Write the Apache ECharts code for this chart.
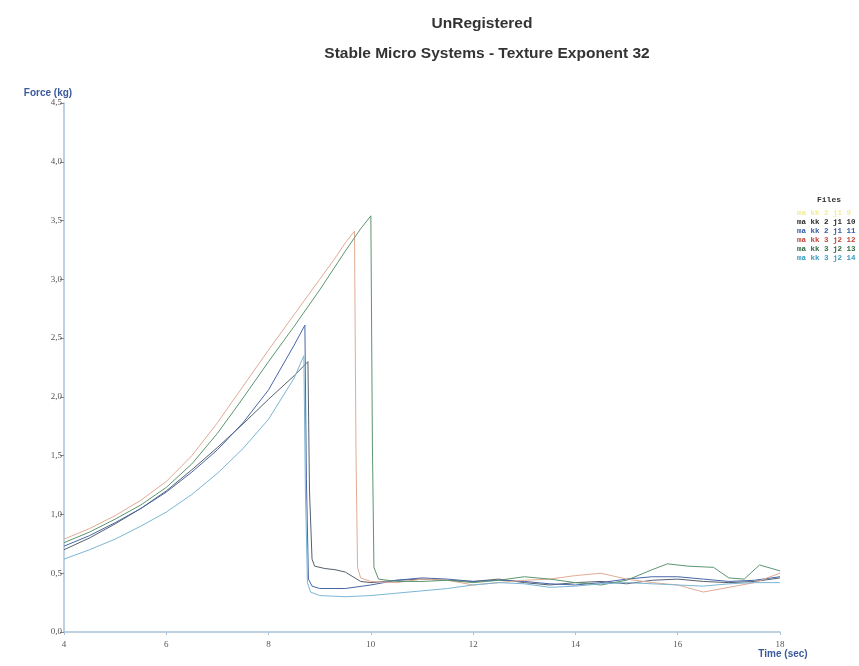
<!DOCTYPE html>
<html lang="en">
<head>
<meta charset="UTF-8"/>
<title>Texture Exponent 32</title>
<script src="https://cdn.jsdelivr.net/npm/echarts@6/dist/echarts.min.js"></script>
<style>
  html, body { margin: 0; padding: 0; background: #fff; }
</style>
</head>
<body>
<div id="main" style="width: 859px;height: 666px;"></div>
<script type="text/javascript">
// legend names (Files)
var fileNames = ['ma kk 2 j1 9', 'ma kk 2 j1 10', 'ma kk 2 j1 11', 'ma kk 3 j2 12', 'ma kk 3 j2 13', 'ma kk 3 j2 14'];
var legendColors = ['#f0ec9a', '#2a2a2a', '#3a5ca6', '#c0463a', '#2f6a42', '#3a9cc2'];
var lineColors = ['#efe9a0', '#56606e', '#4867a8', '#e2ab94', '#5c9670', '#7bb6d4'];

var xTicks = [4, 6, 8, 10, 12, 14, 16, 18];
var yTicks = [0, 0.5, 1, 1.5, 2, 2.5, 3, 3.5, 4, 4.5];

// time (sec) / force (kg) for each file
var t9 = [];
var f9 = [];

var t10 = [4, 4.5, 5, 5.5, 6, 6.5, 7, 7.5, 8, 8.5, 8.77, 8.8, 8.85, 8.9, 9.1, 9.3, 9.5, 9.65, 9.8, 10, 10.5, 11, 11.5, 12, 12.5, 13, 13.5, 14, 14.5, 15, 15.5, 16, 16.5, 17, 17.5, 18];
var f10 = [0.70, 0.80, 0.92, 1.05, 1.20, 1.38, 1.57, 1.77, 1.98, 2.18, 2.30, 1.2, 0.62, 0.56, 0.54, 0.53, 0.51, 0.47, 0.43, 0.42, 0.44, 0.45, 0.44, 0.43, 0.45, 0.42, 0.40, 0.42, 0.43, 0.41, 0.44, 0.45, 0.43, 0.42, 0.43, 0.46];

var t11 = [4, 4.5, 5, 5.5, 6, 6.5, 7, 7.5, 8, 8.5, 8.71, 8.74, 8.78, 8.85, 9, 9.5, 10, 10.5, 11, 11.5, 12, 12.5, 13, 13.5, 14, 14.5, 15, 15.5, 16, 16.5, 17, 17.5, 18];
var f11 = [0.73, 0.82, 0.93, 1.05, 1.19, 1.36, 1.55, 1.78, 2.06, 2.44, 2.61, 1.3, 0.45, 0.39, 0.37, 0.37, 0.40, 0.44, 0.46, 0.45, 0.43, 0.44, 0.43, 0.41, 0.40, 0.42, 0.45, 0.47, 0.47, 0.45, 0.43, 0.44, 0.47];

var t12 = [4, 4.5, 5, 5.5, 6, 6.5, 7, 7.5, 8, 8.5, 9, 9.3, 9.5, 9.68, 9.71, 9.74, 9.8, 10, 10.5, 11, 11.5, 12, 12.5, 13, 13.5, 14, 14.5, 15, 15.5, 16, 16.5, 17, 17.5, 18];
var f12 = [0.79, 0.88, 0.99, 1.12, 1.28, 1.50, 1.78, 2.09, 2.40, 2.70, 3.00, 3.18, 3.31, 3.41, 1.5, 0.55, 0.46, 0.43, 0.42, 0.45, 0.44, 0.40, 0.42, 0.44, 0.45, 0.48, 0.50, 0.45, 0.42, 0.40, 0.34, 0.38, 0.42, 0.50];

var t13 = [4, 4.5, 5, 5.5, 6, 6.5, 7, 7.5, 8, 8.5, 9, 9.5, 9.8, 10.0, 10.03, 10.06, 10.15, 10.5, 11, 11.5, 12, 12.5, 13, 13.5, 14, 14.5, 15, 15.5, 15.8, 16.2, 16.7, 17, 17.3, 17.6, 18];
var f13 = [0.76, 0.85, 0.96, 1.08, 1.23, 1.43, 1.69, 1.99, 2.30, 2.60, 2.91, 3.24, 3.43, 3.54, 1.6, 0.55, 0.45, 0.43, 0.43, 0.44, 0.42, 0.44, 0.47, 0.45, 0.42, 0.40, 0.44, 0.53, 0.58, 0.56, 0.55, 0.46, 0.45, 0.57, 0.52];

var t14 = [4, 4.5, 5, 5.5, 6, 6.5, 7, 7.5, 8, 8.5, 8.69, 8.72, 8.76, 8.82, 9, 9.5, 10, 10.5, 11, 11.5, 12, 12.5, 13, 13.5, 14, 14.5, 15, 15.5, 16, 16.5, 17, 17.5, 18];
var f14 = [0.62, 0.70, 0.79, 0.90, 1.02, 1.17, 1.35, 1.56, 1.81, 2.16, 2.35, 1.2, 0.42, 0.34, 0.31, 0.30, 0.31, 0.33, 0.35, 0.37, 0.40, 0.42, 0.41, 0.38, 0.39, 0.41, 0.42, 0.41, 0.40, 0.39, 0.41, 0.42, 0.42];

var times = [t9, t10, t11, t12, t13, t14];
var forces = [f9, f10, f11, f12, f13, f14];

function pairs(t, f) {
  var out = [];
  for (var i = 0; i < t.length; i++) out.push([t[i], f[i]]);
  return out;
}

var myChart = echarts.init(document.getElementById('main'));

var series = [];
var legendData = [];
for (var i = 0; i < fileNames.length; i++) {
  series.push({
    name: fileNames[i],
    type: 'line',
    data: pairs(times[i], forces[i]),
    showSymbol: false,
    smooth: false,
    silent: true,
    lineStyle: { width: 1, color: lineColors[i] },
    itemStyle: { color: lineColors[i] }
  });
  legendData.push({ name: fileNames[i], textStyle: { color: legendColors[i] } });
}

var option = {
  backgroundColor: '#ffffff',
  animation: false,
  title: [
    {
      text: 'UnRegistered',
      left: 477, top: 11, textAlign: 'center',
      textStyle: { fontFamily: 'Liberation Sans', fontSize: 15.5, fontWeight: 'bold', color: '#333' }
    },
    {
      text: 'Stable Micro Systems - Texture Exponent 32',
      left: 482, top: 41, textAlign: 'center',
      textStyle: { fontFamily: 'Liberation Sans', fontSize: 15.5, fontWeight: 'bold', color: '#333' }
    },
    {
      text: 'Files',
      left: 812, top: 191,
      textStyle: { fontFamily: 'Liberation Mono', fontSize: 8, fontWeight: 'bold', color: '#333' }
    }
  ],
  legend: {
    orient: 'vertical',
    left: 792, top: 209,
    padding: 0,
    icon: 'none',
    itemWidth: 0, itemHeight: 7, itemGap: 1,
    selectedMode: false,
    textStyle: { fontFamily: 'Liberation Mono', fontSize: 7.5, fontWeight: 'bold' },
    data: legendData
  },
  grid: { left: 64, right: 79, top: 103, bottom: 34 },
  xAxis: {
    type: 'value',
    min: 4, max: 18, interval: 2,
    name: 'Time (sec)',
    nameLocation: 'end',
    nameGap: 0,
    nameTextStyle: {
      align: 'center', verticalAlign: 'top', padding: [17, 0, 0, 6],
      fontFamily: 'Liberation Sans', fontSize: 10, fontWeight: 'bold', color: '#3a5a9c'
    },
    axisLine: { lineStyle: { color: '#a9c2d8', width: 1.5 } },
    axisTick: { show: true, length: 3, lineStyle: { color: '#a9c2d8' } },
    axisLabel: {
      margin: 8, fontFamily: 'Liberation Serif', fontSize: 9, color: '#555',
      formatter: function (v) { return xTicks.indexOf(v) >= 0 ? String(v) : ''; }
    },
    splitLine: { show: false }
  },
  yAxis: {
    type: 'value',
    min: 0, max: 4.5, interval: 0.5,
    name: 'Force (kg)',
    nameLocation: 'end',
    nameGap: 3,
    nameTextStyle: {
      align: 'center', padding: [0, 32, 0, 0],
      fontFamily: 'Liberation Sans', fontSize: 10, fontWeight: 'bold', color: '#3a5a9c'
    },
    axisLine: { show: true, lineStyle: { color: '#a9c2d8', width: 1.5 } },
    axisTick: { show: true, length: 4, lineStyle: { color: '#888' } },
    axisLabel: {
      margin: 2, fontFamily: 'Liberation Serif', fontSize: 9, color: '#555',
      formatter: function (v) { return yTicks.indexOf(v) >= 0 ? v.toFixed(1).replace('.', ',') : ''; }
    },
    splitLine: { show: false }
  },
  series: series
};

myChart.setOption(option);
</script>
</body>
</html>
